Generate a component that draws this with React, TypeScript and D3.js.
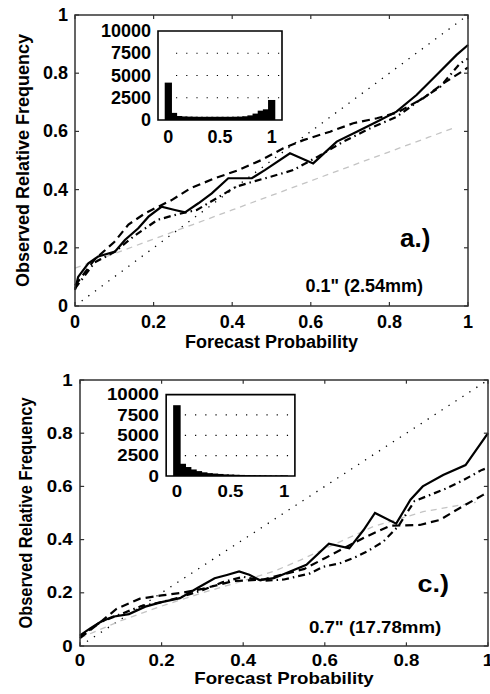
import React from "react";
import * as d3 from "d3";

// ---------- DATA ----------
const xTicks = [0, 0.2, 0.4, 0.6, 0.8, 1];
const xTickLabels = ["0", "0.2", "0.4", "0.6", "0.8", "1"];
const yTicks = [0, 0.2, 0.4, 0.6, 0.8, 1];
const yTickLabels = ["0", "0.2", "0.4", "0.6", "0.8", "1"];
const insetXTicks = [0, 0.5, 1];
const insetXTickLabels = ["0", "0.5", "1"];
const insetYTicks = [0, 2500, 5000, 7500, 10000];
const insetYTickLabels = ["0", "2500", "5000", "7500", "10000"];
const histCenters = [0, 0.05, 0.1, 0.15, 0.2, 0.25, 0.3, 0.35, 0.4, 0.45, 0.5, 0.55, 0.6, 0.65, 0.7, 0.75, 0.8, 0.85, 0.9, 0.95, 1];

// Panel a.)
const aHist = [4200, 800, 450, 400, 380, 370, 360, 360, 360, 360, 360, 360, 360, 370, 380, 420, 520, 720, 1050, 1200, 2250];
const aSolidX = [0, 0.008, 0.034, 0.059, 0.102, 0.127, 0.161, 0.187, 0.22, 0.254, 0.28, 0.314, 0.348, 0.39, 0.45, 0.483, 0.547, 0.606, 0.666, 0.717, 0.768, 0.818, 0.869, 0.92, 0.971, 1.0];
const aSolidY = [0.055, 0.1, 0.147, 0.17, 0.187, 0.227, 0.267, 0.307, 0.341, 0.33, 0.322, 0.353, 0.387, 0.439, 0.439, 0.467, 0.525, 0.49, 0.565, 0.599, 0.633, 0.668, 0.725, 0.794, 0.863, 0.897];
const aDashX = [0, 0.05, 0.1, 0.136, 0.18, 0.246, 0.293, 0.356, 0.416, 0.475, 0.53, 0.581, 0.649, 0.708, 0.768, 0.82, 0.886, 0.937, 0.984, 1.0];
const aDashY = [0.07, 0.16, 0.22, 0.28, 0.32, 0.364, 0.404, 0.439, 0.467, 0.502, 0.542, 0.57, 0.599, 0.628, 0.645, 0.665, 0.714, 0.765, 0.805, 0.82];
const aDashDotX = [0, 0.05, 0.1, 0.15, 0.21, 0.26, 0.31, 0.36, 0.41, 0.46, 0.5, 0.555, 0.62, 0.683, 0.75, 0.818, 0.878, 0.929, 0.98, 1.0];
const aDashDotY = [0.06, 0.15, 0.185, 0.24, 0.296, 0.315, 0.33, 0.37, 0.41, 0.43, 0.445, 0.467, 0.515, 0.565, 0.61, 0.65, 0.708, 0.753, 0.834, 0.85];
const aGrayX = [0, 0.1, 0.2, 0.3, 0.4, 0.5, 0.6, 0.7, 0.8, 0.9, 0.97];
const aGrayY = [0.13, 0.18, 0.23, 0.28, 0.33, 0.38, 0.43, 0.48, 0.53, 0.58, 0.615];

// Panel c.)
const cHist = [8700, 1500, 1100, 800, 600, 450, 350, 300, 250, 200, 180, 150, 130, 110, 100, 90, 80, 70, 60, 60, 80];
const cSolidX = [0, 0.025, 0.05, 0.08, 0.12, 0.16, 0.2, 0.245, 0.29, 0.33, 0.36, 0.39, 0.415, 0.44, 0.475, 0.515, 0.555, 0.61, 0.66, 0.695, 0.723, 0.775, 0.81, 0.84, 0.89, 0.945, 1.0];
const cSolidY = [0.04, 0.066, 0.09, 0.11, 0.12, 0.148, 0.165, 0.18, 0.22, 0.255, 0.267, 0.28, 0.268, 0.248, 0.255, 0.28, 0.305, 0.385, 0.367, 0.436, 0.5, 0.46, 0.55, 0.6, 0.643, 0.68, 0.8];
const cDashX = [0, 0.05, 0.09, 0.147, 0.2, 0.25, 0.3, 0.376, 0.45, 0.5, 0.55, 0.6, 0.65, 0.7, 0.76, 0.833, 0.882, 0.93, 0.988, 1.0];
const cDashY = [0.03, 0.09, 0.14, 0.178, 0.19, 0.2, 0.215, 0.244, 0.25, 0.27, 0.29, 0.33, 0.37, 0.41, 0.452, 0.455, 0.474, 0.518, 0.568, 0.58];
const cDashDotX = [0, 0.05, 0.1, 0.15, 0.2, 0.25, 0.3, 0.35, 0.4, 0.45, 0.5, 0.564, 0.596, 0.637, 0.678, 0.703, 0.743, 0.78, 0.82, 0.858, 0.899, 0.94, 0.985, 1.0];
const cDashDotY = [0.035, 0.09, 0.12, 0.15, 0.165, 0.185, 0.21, 0.24, 0.26, 0.245, 0.25, 0.273, 0.298, 0.311, 0.336, 0.355, 0.392, 0.45, 0.545, 0.568, 0.593, 0.624, 0.662, 0.67];
const cGrayX = [0, 0.1, 0.2, 0.3, 0.4, 0.474, 0.54, 0.62, 0.719, 0.841, 0.97];
const cGrayY = [0.03, 0.095, 0.15, 0.2, 0.245, 0.28, 0.323, 0.38, 0.449, 0.505, 0.54];

const FONT = "'Liberation Sans', Arial, Helvetica, sans-serif";

type Series = { x: number[]; y: number[] };
type PanelProps = {
  hist: number[];
  solid: Series;
  dash: Series;
  dashDot: Series;
  gray: Series;
  tag: string;
  note: string;
  transform?: string;
};

function Panel({ hist, solid, dash, dashDot, gray, tag, note, transform }: PanelProps) {
  // local geometry (in panel-a pixel space)
  const L = 75, R = 468, T = 15, B = 306;
  const x = d3.scaleLinear().domain([0, 1]).range([L, R]);
  const y = d3.scaleLinear().domain([0, 1]).range([B, T]);
  const IL = 158, IR = 282, IT = 31, IB = 120;
  const ix = d3.scaleLinear().domain([-0.1, 1.1]).range([IL, IR]);
  const iy = d3.scaleLinear().domain([0, 10000]).range([IB, IT]);
  const line = d3.line<[number, number]>().x((d) => x(d[0])).y((d) => y(d[1]));
  const pts = (s: Series) => s.x.map((v, i) => [v, s.y[i]] as [number, number]);
  const tickLen = 4;
  const ns = { vectorEffect: "non-scaling-stroke" as const };
  return (
    <g transform={transform} fontFamily={FONT} fontWeight="bold" fill="#000">
      {/* diagonal */}
      <path d={line([[0, 0], [1, 1]]) || ""} fill="none" stroke="#000" strokeWidth={1.3} strokeDasharray="1.3,7" {...ns} />
      {/* gray */}
      <path d={line(pts(gray)) || ""} fill="none" stroke="#c4c4c4" strokeWidth={1.3} strokeDasharray="6,5" {...ns} />
      <path d={line(pts(dash)) || ""} fill="none" stroke="#000" strokeWidth={2.2} strokeDasharray="8,5" {...ns} />
      <path d={line(pts(dashDot)) || ""} fill="none" stroke="#000" strokeWidth={2.2} strokeDasharray="7,4,1.5,4" {...ns} />
      <path d={line(pts(solid)) || ""} fill="none" stroke="#000" strokeWidth={2.2} {...ns} />
      {/* axes box */}
      <rect x={L} y={T} width={R - L} height={B - T} fill="none" stroke="#333" strokeWidth={1.5} {...ns} />
      {xTicks.map((t) => (
        <g key={"xt" + t}>
          <line x1={x(t)} x2={x(t)} y1={B} y2={B - tickLen} stroke="#333" strokeWidth={1.2} {...ns} />
          <line x1={x(t)} x2={x(t)} y1={T} y2={T + tickLen} stroke="#333" strokeWidth={1.2} {...ns} />
        </g>
      ))}
      {yTicks.map((t) => (
        <g key={"yt" + t}>
          <line x1={L} x2={L + tickLen} y1={y(t)} y2={y(t)} stroke="#333" strokeWidth={1.2} {...ns} />
          <line x1={R} x2={R - tickLen} y1={y(t)} y2={y(t)} stroke="#333" strokeWidth={1.2} {...ns} />
        </g>
      ))}
      {xTicks.map((t, i) => (
        <text key={"xl" + t} x={x(t)} y={328} textAnchor="middle" fontSize={18}>{xTickLabels[i]}</text>
      ))}
      {yTicks.map((t, i) => (
        <text key={"yl" + t} x={68} y={y(t)} textAnchor="end" dominantBaseline="central" fontSize={18}>{yTickLabels[i]}</text>
      ))}
      <text x={(L + R) / 2} y={348} textAnchor="middle" fontSize={18}>Forecast Probability</text>
      <text transform={`translate(29,${(T + B) / 2}) rotate(-90)`} textAnchor="middle" fontSize={18}>Observed Relative Frequency</text>
      <text x={400} y={247} fontSize={26}>{tag}</text>
      <text x={423} y={292} textAnchor="end" fontSize={18}>{note}</text>

      {/* inset */}
      <rect x={IL} y={IT} width={IR - IL} height={IB - IT} fill="#fff" stroke="none" />
      {insetYTicks.slice(1, 4).map((t) => (
        <line key={"ig" + t} x1={IL + 18} x2={IR} y1={iy(t)} y2={iy(t)} stroke="#000" strokeWidth={1.2} strokeDasharray="1.2,9" {...ns} />
      ))}
      {hist.map((v, i) => (
        <rect key={"h" + i} x={ix(histCenters[i] - 0.035)} y={iy(v)} width={ix(0.07) - ix(0)} height={IB - iy(v)} fill="#000" />
      ))}
      <rect x={IL} y={IT} width={IR - IL} height={IB - IT} fill="none" stroke="#000" strokeWidth={1.6} {...ns} />
      {insetXTicks.map((t, i) => (
        <text key={"ixl" + t} x={ix(t)} y={143} textAnchor="middle" fontSize={18}>{insetXTickLabels[i]}</text>
      ))}
      {insetYTicks.map((t, i) => (
        <text key={"iyl" + t} x={151} y={iy(t)} textAnchor="end" dominantBaseline="central" fontSize={18}>{insetYTickLabels[i]}</text>
      ))}
    </g>
  );
}

export default function App() {
  const sx = 408 / 393;
  const sy = 266 / 291;
  const bottomTransform = `translate(${80 - 75 * sx},${380 - 15 * sy}) scale(${sx},${sy})`;
  return (
    <svg width={490} height={694} style={{ position: "absolute", left: 0, top: 0, background: "#fff" }}>
      <rect x={0} y={0} width={490} height={694} fill="#fff" />
      <Panel
        hist={aHist}
        solid={{ x: aSolidX, y: aSolidY }}
        dash={{ x: aDashX, y: aDashY }}
        dashDot={{ x: aDashDotX, y: aDashDotY }}
        gray={{ x: aGrayX, y: aGrayY }}
        tag="a.)"
        note={'0.1" (2.54mm)'}
      />
      <Panel
        hist={cHist}
        solid={{ x: cSolidX, y: cSolidY }}
        dash={{ x: cDashX, y: cDashY }}
        dashDot={{ x: cDashDotX, y: cDashDotY }}
        gray={{ x: cGrayX, y: cGrayY }}
        tag="c.)"
        note={'0.7" (17.78mm)'}
        transform={bottomTransform}
      />
    </svg>
  );
}
